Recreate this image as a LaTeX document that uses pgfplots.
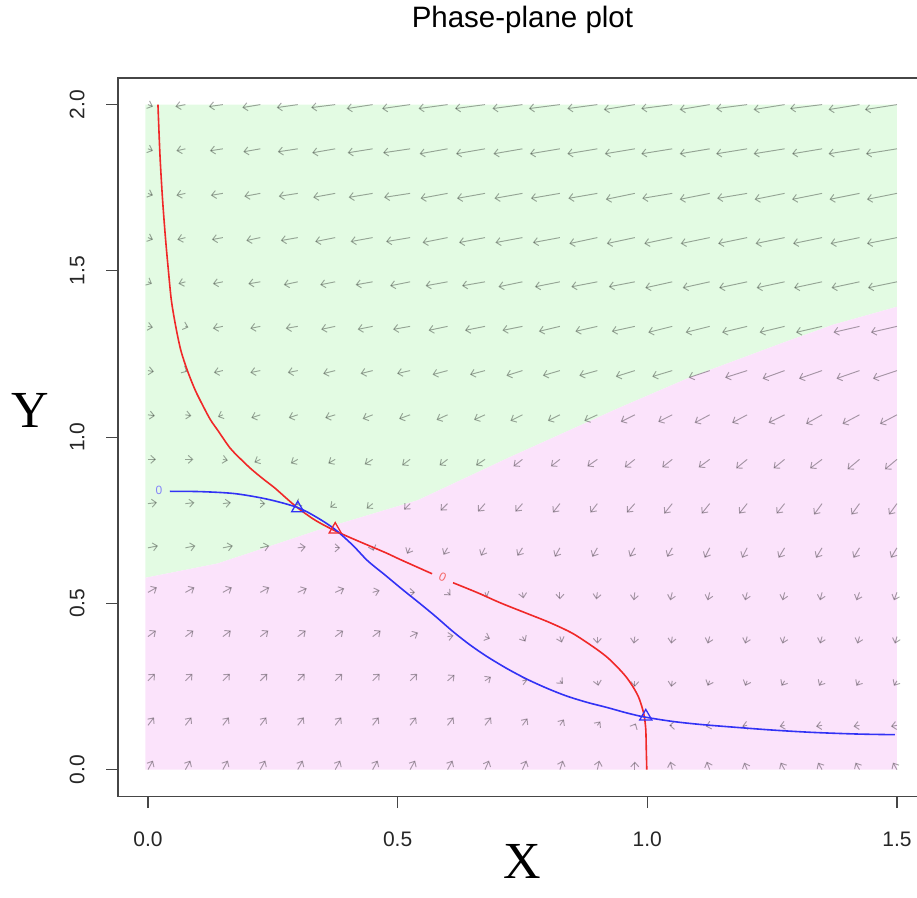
\documentclass[border=0pt]{standalone}
\usepackage{fontspec}
\setmainfont{Liberation Serif}
\newfontfamily\sansf{Liberation Sans}
\usepackage{pgfplots}
\pgfplotsset{compat=1.18}
\usetikzlibrary{arrows.meta}
\definecolor{bggreen}{RGB}{227,251,227}
\definecolor{bgpink}{RGB}{251,227,251}
\definecolor{boxgray}{RGB}{70,70,70}
\definecolor{nullred}{RGB}{240,40,40}
\definecolor{nullblue}{RGB}{50,50,245}
\begin{document}
\begin{tikzpicture}
\begin{axis}[
  scale only axis, width=808.9pt, height=718.2pt,
  xmin=-0.06, xmax=1.56, ymin=-0.08, ymax=2.08,
  axis line style={boxgray, line width=1.3pt},
  tick align=outside, tick pos=left,
  major tick length=12pt,
  every tick/.style={boxgray, line width=1.1pt},
  xtick={0,0.5,1,1.5}, xticklabels={0.0,0.5,1.0,1.5},
  ytick={0,0.5,1,1.5,2}, yticklabels={0.0,0.5,1.0,1.5,2.0},
  ticklabel style={font=\sansf\fontsize{21}{21}\selectfont, text=black!85},
  xticklabel style={yshift=-20pt},
  yticklabel style={rotate=90, anchor=south, yshift=18pt},
  axis on top,
]
% regions
\addplot[draw=none, fill=bggreen] coordinates {(-0.005,0.577) (-0.005,2) (1.5,2) (1.5,1.392) (1.372,1.338) (1.272,1.284) (1.086,1.18) (0.945,1.089) (0.725,0.94) (0.54,0.81) (0.34,0.72) (0.14,0.62)} -- cycle;
\addplot[draw=none, fill=bgpink] coordinates {(-0.005,0) (1.5,0) (1.5,1.392) (1.372,1.338) (1.272,1.284) (1.086,1.18) (0.945,1.089) (0.725,0.94) (0.54,0.81) (0.34,0.72) (0.14,0.62) (-0.005,0.577)} -- cycle;
% vector field (dx, dy in pixels)
\addplot[black, opacity=0.34, line width=0.95pt, -{Straight Barb[length=4.5pt,width=8pt]},
  quiver={u=\thisrow{dx}/499.3, v=\thisrow{dy}/332.5}] table[x=x, y=y] {
x y dx dy
0 2 5 -2
0.075 2 -10 -2
0.15 2 -14 -2
0.225 2 -18 -3
0.3 2 -21 -3
0.375 2 -24 -3
0.45 2 -26 -4
0.525 2 -28 -4
0.6 2 -29 -4
0.675 2 -30 -4
0.75 2 -30 -4
0.825 2 -31 -4
0.9 2 -30 -4
0.975 2 -31 -5
1.05 2 -31 -4
1.125 2 -30 -5
1.2 2 -31 -4
1.275 2 -31 -5
1.35 2 -32 -4
1.425 2 -31 -5
1.5 2 -32 -5
0 1.867 5 -2
0.075 1.867 -9 -2
0.15 1.867 -13 -2
0.225 1.867 -17 -3
0.3 1.867 -20 -3
0.375 1.867 -23 -4
0.45 1.867 -25 -4
0.525 1.867 -27 -4
0.6 1.867 -28 -5
0.675 1.867 -29 -5
0.75 1.867 -29 -5
0.825 1.867 -30 -5
0.9 1.867 -30 -5
0.975 1.867 -30 -5
1.05 1.867 -31 -5
1.125 1.867 -30 -5
1.2 1.867 -31 -5
1.275 1.867 -31 -5
1.35 1.867 -30 -5
1.425 1.867 -31 -5
1.5 1.867 -31 -5
0 1.733 5 -2
0.075 1.733 -9 -2
0.15 1.733 -12 -2
0.225 1.733 -16 -3
0.3 1.733 -19 -3
0.375 1.733 -22 -4
0.45 1.733 -24 -4
0.525 1.733 -26 -4
0.6 1.733 -27 -5
0.675 1.733 -28 -5
0.75 1.733 -28 -5
0.825 1.733 -29 -5
0.9 1.733 -29 -5
0.975 1.733 -29 -6
1.05 1.733 -30 -5
1.125 1.733 -30 -6
1.2 1.733 -30 -5
1.275 1.733 -30 -6
1.35 1.733 -30 -6
1.425 1.733 -30 -6
1.5 1.733 -30 -6
0 1.6 5 -2
0.075 1.6 -8 -2
0.15 1.6 -11 -2
0.225 1.6 -14 -3
0.3 1.6 -17 -3
0.375 1.6 -20 -4
0.45 1.6 -22 -4
0.525 1.6 -24 -4
0.6 1.6 -25 -5
0.675 1.6 -26 -5
0.75 1.6 -27 -5
0.825 1.6 -27 -5
0.9 1.6 -28 -6
0.975 1.6 -28 -6
1.05 1.6 -28 -6
1.125 1.6 -29 -6
1.2 1.6 -29 -6
1.275 1.6 -29 -6
1.35 1.6 -29 -6
1.425 1.6 -29 -6
1.5 1.6 -30 -6
0 1.467 4 -2
0.075 1.467 -7 -2
0.15 1.467 -10 -2
0.225 1.467 -12 -2
0.3 1.467 -14 -3
0.375 1.467 -15 -3
0.45 1.467 -17 -3
0.525 1.467 -20 -4
0.6 1.467 -22 -4
0.675 1.467 -23 -4
0.75 1.467 -24 -5
0.825 1.467 -25 -5
0.9 1.467 -26 -5
0.975 1.467 -26 -5
1.05 1.467 -27 -6
1.125 1.467 -27 -6
1.2 1.467 -28 -6
1.275 1.467 -28 -6
1.35 1.467 -28 -6
1.425 1.467 -28 -6
1.5 1.467 -29 -6
0 1.333 5 -1
0.075 1.333 3 -1
0.15 1.333 -10 -2
0.225 1.333 -10 -2
0.3 1.333 -12 -2
0.375 1.333 -14 -3
0.45 1.333 -15 -3
0.525 1.333 -17 -3
0.6 1.333 -19 -4
0.675 1.333 -20 -4
0.75 1.333 -20 -4
0.825 1.333 -21 -5
0.9 1.333 -22 -5
0.975 1.333 -23 -5
1.05 1.333 -24 -6
1.125 1.333 -24 -6
1.2 1.333 -25 -6
1.275 1.333 -25 -6
1.35 1.333 -26 -6
1.425 1.333 -26 -6
1.5 1.333 -26 -6
0 1.2 6 -1
0.075 1.2 2 -1
0.15 1.2 -9 -2
0.225 1.2 -10 -2
0.3 1.2 -10 -2
0.375 1.2 -12 -3
0.45 1.2 -12 -3
0.525 1.2 -13 -3
0.6 1.2 -15 -4
0.675 1.2 -15 -4
0.75 1.2 -16 -5
0.825 1.2 -17 -5
0.9 1.2 -18 -5
0.975 1.2 -19 -6
1.05 1.2 -20 -6
1.125 1.2 -21 -7
1.2 1.2 -22 -7
1.275 1.2 -22 -8
1.35 1.2 -23 -8
1.425 1.2 -23 -8
1.5 1.2 -24 -8
0 1.067 7 -1
0.075 1.067 6 -1
0.15 1.067 -5 -2
0.225 1.067 -9 -3
0.3 1.067 -9 -3
0.375 1.067 -10 -3
0.45 1.067 -10 -4
0.525 1.067 -11 -4
0.6 1.067 -11 -5
0.675 1.067 -11 -5
0.75 1.067 -12 -6
0.825 1.067 -12 -6
0.9 1.067 -13 -6
0.975 1.067 -14 -7
1.05 1.067 -14 -7
1.125 1.067 -15 -8
1.2 1.067 -15 -8
1.275 1.067 -16 -8
1.35 1.067 -16 -9
1.425 1.067 -17 -9
1.5 1.067 -17 -9
0 0.933 8 0
0.075 0.933 8 0
0.15 0.933 5 -1
0.225 0.933 -6 -3
0.3 0.933 -7 -4
0.375 0.933 -7 -4
0.45 0.933 -8 -5
0.525 0.933 -8 -6
0.6 0.933 -8 -6
0.675 0.933 -9 -6
0.75 0.933 -9 -7
0.825 0.933 -9 -7
0.9 0.933 -10 -7
0.975 0.933 -10 -8
1.05 0.933 -10 -8
1.125 0.933 -11 -8
1.2 0.933 -11 -9
1.275 0.933 -11 -9
1.35 0.933 -12 -9
1.425 0.933 -12 -10
1.5 0.933 -12 -10
0 0.8 9 1
0.075 0.8 9 1
0.15 0.8 8 1
0.225 0.8 5 0
0.3 0.8 -2 -1
0.375 0.8 -5 -4
0.45 0.8 -6 -5
0.525 0.8 -6 -6
0.6 0.8 -7 -7
0.675 0.8 -7 -8
0.75 0.8 -7 -8
0.825 0.8 -7 -9
0.9 0.8 -7 -9
0.975 0.8 -8 -9
1.05 0.8 -8 -10
1.125 0.8 -8 -10
1.2 0.8 -8 -10
1.275 0.8 -8 -10
1.35 0.8 -8 -11
1.425 0.8 -8 -11
1.5 0.8 -8 -11
0 0.667 10 2
0.075 0.667 10 2
0.15 0.667 10 2
0.225 0.667 9 2
0.3 0.667 8 1
0.375 0.667 5 0
0.45 0.667 1 -3
0.525 0.667 -3 -6
0.6 0.667 -4 -7
0.675 0.667 -4 -8
0.75 0.667 -5 -8
0.825 0.667 -5 -9
0.9 0.667 -5 -9
0.975 0.667 -5 -9
1.05 0.667 -5 -9
1.125 0.667 -5 -10
1.2 0.667 -5 -10
1.275 0.667 -6 -10
1.35 0.667 -6 -10
1.425 0.667 -6 -10
1.5 0.667 -6 -10
0 0.533 9 5
0.075 0.533 9 5
0.15 0.533 9 5
0.225 0.533 9 5
0.3 0.533 9 4
0.375 0.533 9 4
0.45 0.533 7 2
0.525 0.533 5 0
0.6 0.533 3 -3
0.675 0.533 2 -5
0.75 0.533 1 -6
0.825 0.533 0 -7
0.9 0.533 -1 -7
0.975 0.533 -1 -8
1.05 0.533 -2 -8
1.125 0.533 -2 -8
1.2 0.533 -2 -8
1.275 0.533 -2 -8
1.35 0.533 -2 -8
1.425 0.533 -3 -8
1.5 0.533 -3 -8
0 0.4 8 6
0.075 0.4 8 6
0.15 0.4 8 6
0.225 0.4 8 6
0.3 0.4 8 6
0.375 0.4 8 6
0.45 0.4 8 6
0.525 0.4 8 4
0.6 0.4 6 1
0.675 0.4 5 -2
0.75 0.4 3 -5
0.825 0.4 2 -6
0.9 0.4 0 -7
0.975 0.4 -1 -7
1.05 0.4 -1 -7
1.125 0.4 -2 -7
1.2 0.4 -2 -7
1.275 0.4 -2 -7
1.35 0.4 -2 -7
1.425 0.4 -2 -7
1.5 0.4 -2 -7
0 0.267 7 7
0.075 0.267 7 7
0.15 0.267 7 7
0.225 0.267 7 7
0.3 0.267 7 7
0.375 0.267 7 7
0.45 0.267 7 7
0.525 0.267 7 7
0.6 0.267 7 6
0.675 0.267 6 4
0.75 0.267 5 1
0.825 0.267 3 -3
0.9 0.267 1 -5
0.975 0.267 0 -6
1.05 0.267 -1 -6
1.125 0.267 -2 -5
1.2 0.267 -2 -5
1.275 0.267 -3 -5
1.35 0.267 -3 -5
1.425 0.267 -3 -5
1.5 0.267 -3 -5
0 0.133 6 8
0.075 0.133 6 8
0.15 0.133 6 8
0.225 0.133 6 8
0.3 0.133 6 8
0.375 0.133 6 8
0.45 0.133 6 8
0.525 0.133 6 8
0.6 0.133 6 8
0.675 0.133 6 8
0.75 0.133 5 7
0.825 0.133 4 6
0.9 0.133 3 4
0.975 0.133 1 2
1.05 0.133 -3 0
1.125 0.133 -4 -1
1.2 0.133 -5 -1
1.275 0.133 -5 -1
1.35 0.133 -6 -1
1.425 0.133 -6 -1
1.5 0.133 -6 -1
0 0 5 9
0.075 0 5 9
0.15 0 5 9
0.225 0 5 9
0.3 0 5 9
0.375 0 5 9
0.45 0 5 9
0.525 0 5 9
0.6 0 5 9
0.675 0 4 9
0.75 0 4 9
0.825 0 3 9
0.9 0 2 9
0.975 0 0 8
1.05 0 -2 8
1.125 0 -3 8
1.2 0 -3 7
1.275 0 -4 7
1.35 0 -4 7
1.425 0 -4 7
1.5 0 -4 7
};
% red nullcline
\addplot[nullred, line width=1.6pt, smooth, tension=0.5] coordinates {
(0.020,2.000) (0.024,1.850) (0.029,1.720) (0.035,1.600) (0.041,1.500) (0.047,1.410) (0.056,1.330) (0.066,1.260) (0.079,1.200) (0.095,1.140) (0.114,1.083) (0.126,1.050) (0.140,1.020) (0.164,0.968) (0.185,0.935) (0.206,0.905) (0.230,0.875) (0.254,0.847) (0.278,0.815) (0.300,0.787) (0.335,0.750) (0.375,0.718) (0.420,0.688) (0.475,0.653) (0.505,0.632) (0.569,0.589)};
\addplot[nullred, line width=1.6pt, smooth, tension=0.5] coordinates {
(0.611,0.562) (0.660,0.532) (0.705,0.502) (0.755,0.472) (0.805,0.442) (0.850,0.410) (0.891,0.370) (0.918,0.340) (0.939,0.310) (0.957,0.280) (0.971,0.250) (0.982,0.220) (0.989,0.190) (0.994,0.160) (0.997,0.120) (0.998,0.060) (0.999,0.000)};
% blue nullcline
\addplot[nullblue, line width=1.6pt, smooth, tension=0.5] coordinates {
(0.044,0.837) (0.106,0.836) (0.174,0.830) (0.240,0.813) (0.300,0.788) (0.340,0.757) (0.375,0.722) (0.410,0.675) (0.440,0.628) (0.475,0.585) (0.507,0.545) (0.541,0.504) (0.575,0.462) (0.611,0.415) (0.645,0.375) (0.679,0.340) (0.720,0.303) (0.759,0.272) (0.800,0.244) (0.839,0.221) (0.880,0.202) (0.919,0.187) (0.960,0.170) (0.995,0.158) (1.050,0.145) (1.105,0.136) (1.170,0.128) (1.250,0.119) (1.330,0.112) (1.420,0.107) (1.496,0.105)};
% equilibria
\addplot[only marks, mark=triangle, mark size=7pt, nullblue, line width=1.3pt] coordinates {(0.300,0.786) (0.997,0.160)};
\addplot[only marks, mark=triangle, mark size=7pt, nullred, line width=1.3pt] coordinates {(0.375,0.722)};
% contour labels
\node[text=nullblue!60, font=\sansf\fontsize{12}{12}\selectfont] at (axis cs:0.022,0.840) {0};
\node[text=nullred!70, font=\sansf\fontsize{12}{12}\selectfont, rotate=-25] at (axis cs:0.590,0.578) {0};
\end{axis}
\node[font=\sansf\fontsize{29.5}{29.5}\selectfont] at ([xshift=404.45pt,yshift=58pt]current axis.north west) {Phase-plane plot};
\node[font=\fontsize{52}{52}\selectfont] at ([xshift=404.45pt,yshift=-65pt]current axis.south west) {X};
\node[font=\fontsize{52}{52}\selectfont] at ([xshift=-88pt,yshift=27pt]current axis.west) {Y};
\pgfresetboundingbox
\path[use as bounding box] ([xshift=-118pt,yshift=78pt]current axis.north west) rectangle ([xshift=799pt,yshift=-101pt]current axis.south west);
\end{tikzpicture}
\end{document}
